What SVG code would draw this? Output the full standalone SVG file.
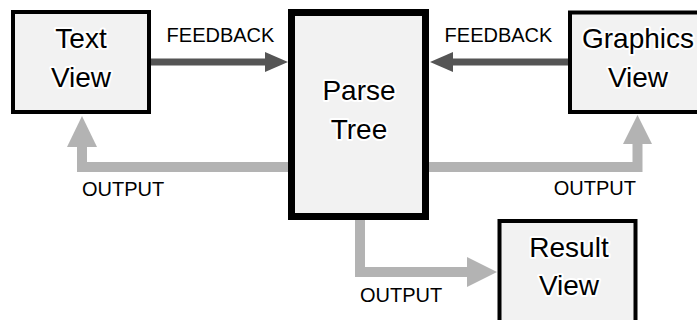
<svg xmlns="http://www.w3.org/2000/svg" width="697" height="320" viewBox="0 0 697 320">
<style>
.box{fill:#f2f2f2;stroke:#000;stroke-width:4}
.main{stroke-width:7}
.lbl{font-family:"Liberation Sans",Arial,sans-serif;font-size:28px;fill:#000;stroke:#fff;stroke-width:4;stroke-linejoin:round;paint-order:stroke;text-anchor:middle}
.fb{stroke:#555;stroke-width:7;fill:none}
.fbh{fill:#555}
.out{stroke:#b3b3b3;stroke-width:10;fill:none}
.outh{fill:#b3b3b3}
.cl{font-family:"Liberation Sans",Arial,sans-serif;font-size:20px;fill:#000}
</style>
<rect width="697" height="320" fill="#fff"/>
<g id="connectors">
  <line class="fb" x1="151" y1="62" x2="267" y2="62"/>
  <polygon class="fbh" points="265,52 288,62 265,72"/>
  <text class="cl" x="220.5" y="42" text-anchor="middle">FEEDBACK</text>
  <line class="fb" x1="568" y1="62" x2="451" y2="62"/>
  <polygon class="fbh" points="453,52 430,62 453,72"/>
  <text class="cl" x="498.5" y="42" text-anchor="middle">FEEDBACK</text>
  <path class="out" d="M288,167 H82 V145"/>
  <polygon class="outh" points="67,147 97,147 82,116"/>
  <text class="cl" x="82" y="196">OUTPUT</text>
  <path class="out" d="M429,167 H637.5 V142"/>
  <polygon class="outh" points="623,144 652,144 637.5,115"/>
  <text class="cl" x="636" y="195" text-anchor="end">OUTPUT</text>
  <path class="out" d="M360,220 V272 H469"/>
  <polygon class="outh" points="467,257 467,287 497,272"/>
  <text class="cl" x="360" y="301.5">OUTPUT</text>
</g>
<g id="text-view">
  <rect class="box" x="13" y="12" width="136" height="100"/>
  <text class="lbl" x="81" y="48">Text</text>
  <text class="lbl" x="81" y="87">View</text>
</g>
<g id="parse-tree">
  <rect class="box main" x="291.5" y="12.5" width="134" height="204"/>
  <text class="lbl" x="359" y="100">Parse</text>
  <text class="lbl" x="359" y="138.5">Tree</text>
</g>
<g id="graphics-view">
  <rect class="box" x="570" y="12.5" width="140" height="99.5"/>
  <text class="lbl" x="638" y="48">Graphics</text>
  <text class="lbl" x="638" y="87">View</text>
</g>
<g id="result-view">
  <rect class="box" x="499.5" y="221" width="136" height="104"/>
  <text class="lbl" x="569" y="257">Result</text>
  <text class="lbl" x="569" y="295">View</text>
</g>
</svg>
